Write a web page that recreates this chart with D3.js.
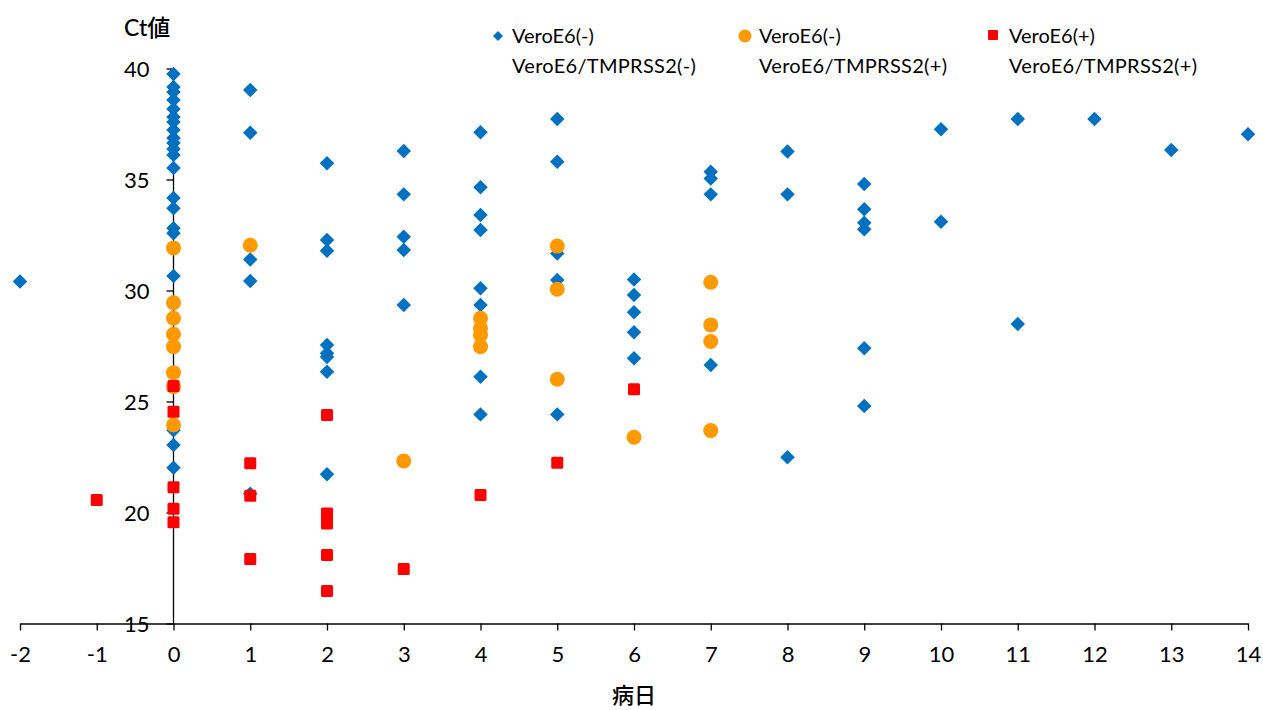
<!DOCTYPE html>
<html><head><meta charset="utf-8">
<script src="https://cdn.jsdelivr.net/npm/d3@7"></script>
<style>
body{margin:0;background:#fff;}
svg text{font-family:Lato,"Noto Sans CJK JP",sans-serif;fill:#000;}
</style></head>
<body><svg id="c" width="1263" height="710"></svg>
<script>
const xTicks = [-2,-1,0,1,2,3,4,5,6,7,8,9,10,11,12,13,14];
const yTicks = [15,20,25,30,35,40];
const yTitle = "Ct値";
const xTitle = "病日";

const blueDays = [-2,
 0,0,0,0,0,0,0,0,0,0,0,0,0,0,0,0,0,0,0,0,0,
 1,1,1,1,1,
 2,2,2,2,2,2,2,2,
 3,3,3,3,3,
 4,4,4,4,4,4,4,4,
 5,5,5,5,5,
 6,6,6,6,6,
 7,7,7,7,
 8,8,8,
 9,9,9,9,9,9,
 10,10,11,11,12,13,14];
const blueCt = [30.4,
 39.75,39.17,38.94,38.58,38.18,37.82,37.59,37.23,36.87,36.64,36.37,36.1,35.52,34.17,33.7,32.8,32.58,30.65,23.7,23.04,22.02,
 39.03,37.11,31.4,30.43,20.85,
 35.73,32.27,31.79,27.55,27.17,27.0,26.34,21.72,
 36.28,34.33,32.42,31.82,29.35,
 37.13,34.65,33.4,32.73,30.1,29.35,26.12,24.42,
 37.73,35.8,31.67,30.47,24.42,
 30.5,29.8,29.02,28.12,26.95,
 35.35,35.05,34.33,26.64,
 36.26,34.33,22.49,
 34.8,33.66,33.05,32.76,27.4,24.8,
 37.26,33.1,37.73,28.49,37.73,36.33,37.04];

const orangeDays = [0,0,0,0,0,0,0,0, 1, 3, 4,4,4,4, 5,5,5, 6, 7,7,7,7];
const orangeCt = [31.92,29.45,28.75,28.03,27.47,26.3,25.67,23.94, 32.04, 22.32, 28.75,28.3,28.0,27.47, 32.0,30.06,26.0, 23.39, 30.37,28.45,27.7,23.69];

const redDays = [-1, 0,0,0,0,0, 1,1,1, 2,2,2,2,2, 3, 4, 5, 6];
const redCt = [20.56, 25.7,24.54,21.14,20.17,19.56, 22.22,20.76,17.9, 24.39,19.96,19.51,18.08,16.46, 17.46, 20.79, 22.24, 25.55];

const legendLine1 = ["VeroE6(-)","VeroE6(-)","VeroE6(+)"];
const legendLine2 = ["VeroE6/TMPRSS2(-)","VeroE6/TMPRSS2(+)","VeroE6/TMPRSS2(+)"];

const svg = d3.select("#c");
const x = d3.scaleLinear().domain([-2,14]).range([20,1248]);
const y = d3.scaleLinear().domain([15,40]).range([623.5,68.5]);

// axes
const xAxis = svg.append("g").attr("transform",`translate(0,${y(15)})`)
  .call(d3.axisBottom(x).tickValues(xTicks).tickSize(7).tickSizeOuter(0).tickFormat(d3.format("d")));
const yAxis = svg.append("g").attr("transform",`translate(${x(0)},0)`)
  .call(d3.axisLeft(y).tickValues(yTicks).tickSize(7).tickSizeOuter(0));
[xAxis,yAxis].forEach(a=>{
  a.select(".domain").attr("stroke","#000").attr("stroke-width",1.3);
  a.selectAll(".tick line").attr("stroke","#000").attr("stroke-width",1.3);
  a.selectAll(".tick text").attr("font-size",22).attr("font-family","Lato, sans-serif").attr("fill","#000");
});
xAxis.selectAll(".tick text").attr("y",0).attr("dy","1.75em").text(d=>d<0?"-"+Math.abs(d):d);
yAxis.selectAll(".tick text").attr("x",-24).attr("dy","0.35em");
yAxis.select(".domain").attr("d",`M0,${y(40)}V${y(15)}`);

// markers
const blue="#0070C0", orange="#FF9900", red="#FF0000";
const diamond = d3.symbol().type(d3.symbolSquare).size(105);
svg.append("g").selectAll("path").data(d3.range(blueDays.length)).join("path")
  .attr("d",diamond())
  .attr("transform",i=>`translate(${x(blueDays[i])},${y(blueCt[i])}) rotate(45)`)
  .attr("fill",blue);
svg.append("g").selectAll("circle").data(d3.range(orangeDays.length)).join("circle")
  .attr("cx",i=>x(orangeDays[i])).attr("cy",i=>y(orangeCt[i])).attr("r",7.5)
  .attr("fill",orange);
svg.append("g").selectAll("rect").data(d3.range(redDays.length)).join("rect")
  .attr("x",i=>x(redDays[i])-6).attr("y",i=>y(redCt[i])-6).attr("width",12).attr("height",12).attr("rx",1.5)
  .attr("fill",red);

// titles
svg.append("text").attr("x",124).attr("y",36).attr("font-size",23).attr("font-weight",500).text(yTitle);
svg.append("text").attr("x",634).attr("y",703).attr("text-anchor","middle").attr("font-size",22).attr("font-weight",500).text(xTitle);

// legend
const lgX = [498,745,993];
const lg = svg.append("g");
lgX.forEach((lx,i)=>{
  if(i===0) lg.append("path").attr("d",d3.symbol().type(d3.symbolSquare).size(50)()).attr("transform",`translate(${lx},36) rotate(45)`).attr("fill",blue);
  if(i===1) lg.append("circle").attr("cx",lx).attr("cy",36).attr("r",6.5).attr("fill",orange);
  if(i===2) lg.append("rect").attr("x",lx-5).attr("y",30).attr("width",10).attr("height",10).attr("rx",1).attr("fill",red);
  const tx = lx+14+(i===2?2:0);
  lg.append("text").attr("x",tx).attr("y",43).attr("font-size",20).text(legendLine1[i]);
  lg.append("text").attr("x",tx).attr("y",73).attr("font-size",20).attr("letter-spacing",0.3).text(legendLine2[i]);
});
</script>
</body></html>
